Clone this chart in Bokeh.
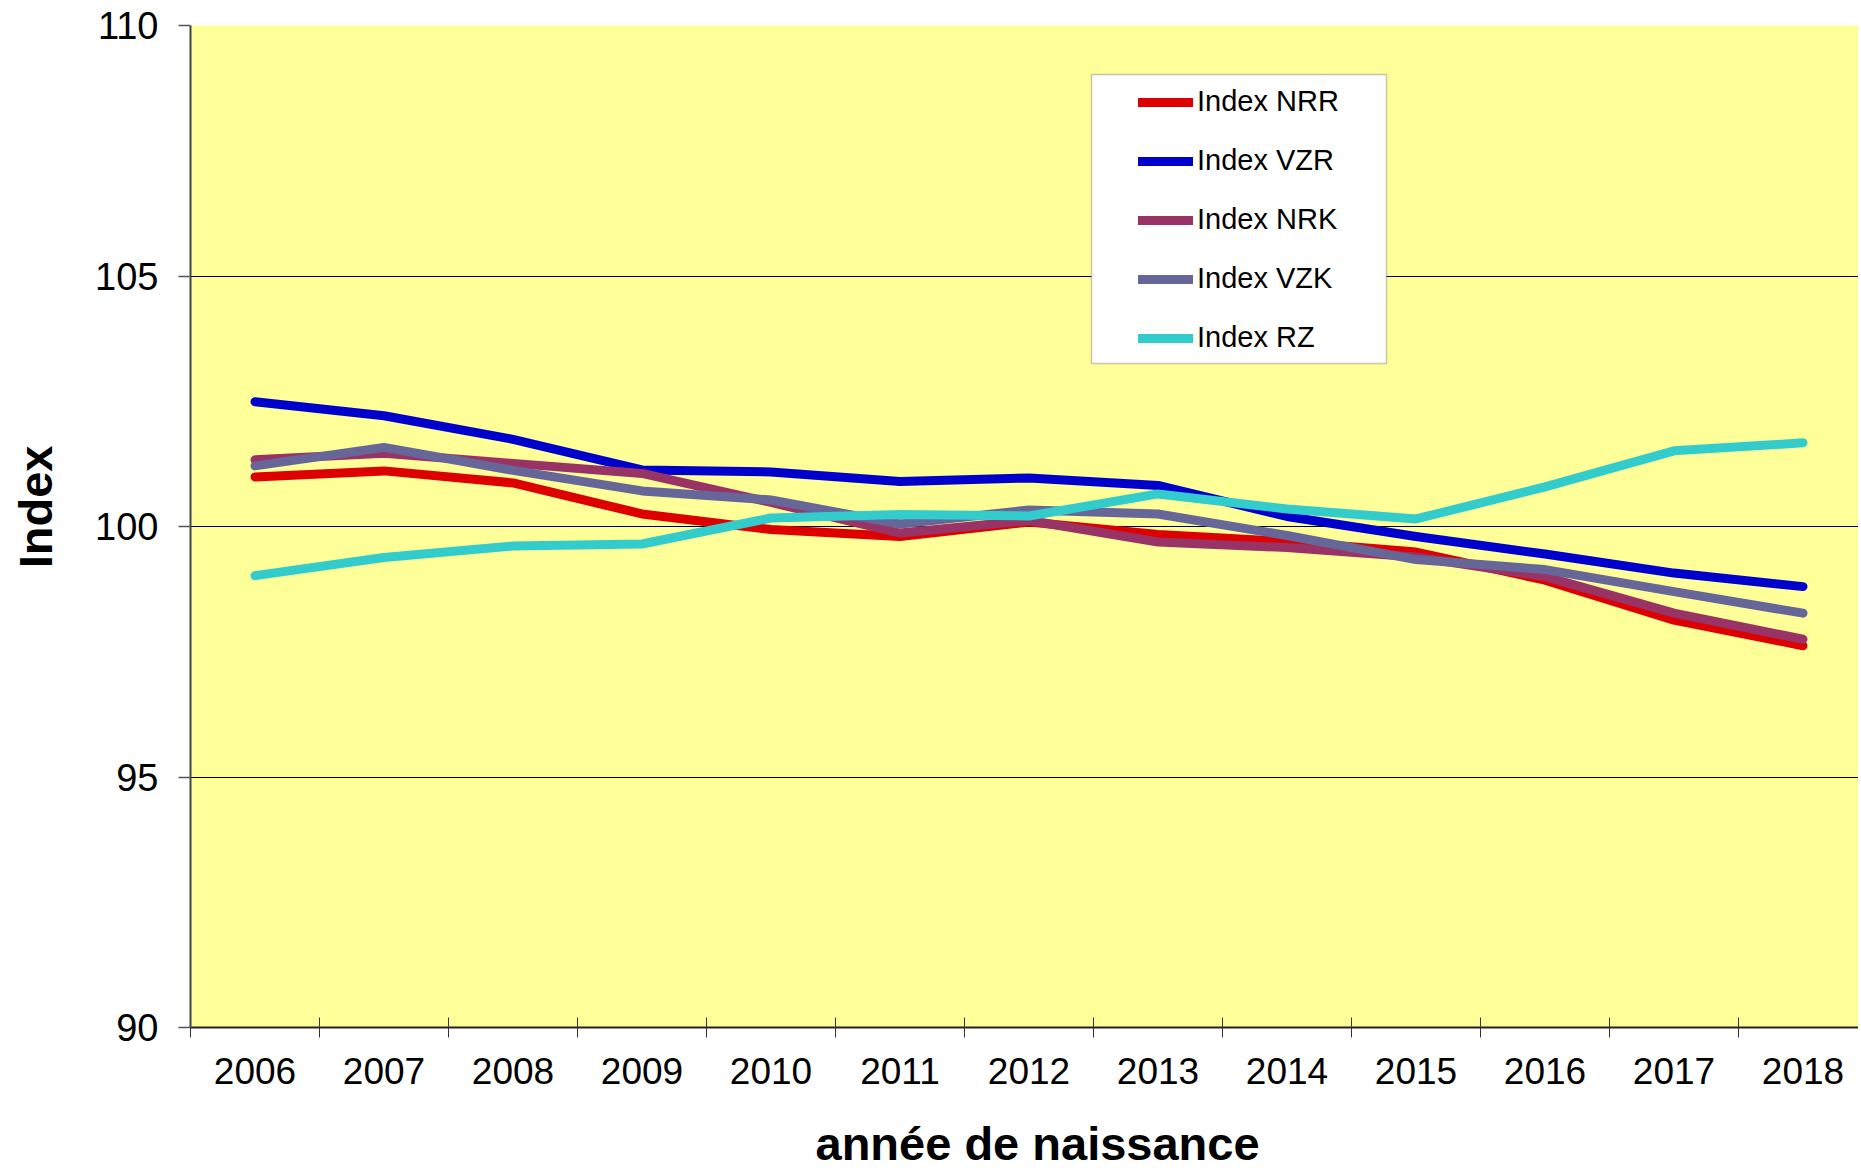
from bokeh.plotting import figure
from bokeh.models import Range1d, FixedTicker, Legend, LegendItem, BoxAnnotation
from bokeh.embed import file_html
from bokeh.resources import INLINE

years = list(range(2006, 2019))
index_nrr = [100.99, 101.11, 100.87, 100.25, 99.94, 99.80, 100.09, 99.84, 99.70, 99.49, 98.93, 98.13, 97.62]
index_vzr = [102.49, 102.21, 101.74, 101.13, 101.09, 100.90, 100.97, 100.82, 100.20, 99.80, 99.45, 99.07, 98.80]
index_nrk = [101.33, 101.46, 101.26, 101.06, 100.48, 99.87, 100.12, 99.69, 99.58, 99.39, 99.00, 98.27, 97.75]
index_vzk = [101.21, 101.58, 101.12, 100.71, 100.53, 100.05, 100.33, 100.25, 99.82, 99.34, 99.14, 98.70, 98.27]
index_rz = [99.02, 99.38, 99.61, 99.65, 100.17, 100.24, 100.21, 100.65, 100.35, 100.15, 100.79, 101.51, 101.67]

series_names = ["Index NRR", "Index VZR", "Index NRK", "Index VZK", "Index RZ"]
series_values = [index_nrr, index_vzr, index_nrk, index_vzk, index_rz]
series_colors = ["#DD0000", "#0000CC", "#993366", "#666699", "#33CCCC"]
y_ticks = [90, 95, 100, 105, 110]

FONT = "Liberation Sans"
NB = "\u00a0"

p = figure(width=1858, height=1172, output_backend="svg", toolbar_location=None,
           x_range=Range1d(2005.5, 2005.5 + (1858 - 190) / 129.0), y_range=Range1d(90, 110),
           min_border_left=190, min_border_right=0, min_border_top=25, min_border_bottom=145)
p.background_fill_color = "#FFFF99"
p.border_fill_color = "white"
p.outline_line_color = None

renderers = []
for name, vals, col in zip(series_names, series_values, series_colors):
    r = p.line(years, vals, line_color=col, line_width=9, line_cap="round", line_join="round")
    renderers.append(r)

# axes
p.xgrid.visible = False
p.ygrid.ticker = FixedTicker(ticks=y_ticks)
p.ygrid.grid_line_color = "black"
p.ygrid.grid_line_width = 1

xa = p.xaxis[0]
xa.ticker = FixedTicker(ticks=years, minor_ticks=[y - 0.5 for y in years] + [years[-1] + 0.5])
xa.major_tick_in = 0
xa.major_tick_out = 0
xa.minor_tick_in = 10
xa.minor_tick_out = 10
xa.minor_tick_line_color = "#333333"
xa.minor_tick_line_width = 1
xa.axis_line_color = "#222222"
xa.axis_line_width = 2
xa.major_label_text_font = FONT
xa.major_label_text_font_size = "37px"
xa.major_label_text_color = "black"
xa.major_label_standoff = 20
xa.axis_label = NB * 2 + "année de naissance"
xa.axis_label_text_font = FONT
xa.axis_label_text_font_style = "bold"
xa.axis_label_text_font_size = "47px"
xa.axis_label_text_color = "black"
xa.axis_label_standoff = 30

ya = p.yaxis[0]
ya.ticker = FixedTicker(ticks=y_ticks)
ya.major_tick_in = 0
ya.major_tick_out = 12
ya.major_tick_line_color = "#555555"
ya.major_tick_line_width = 1.5
ya.minor_tick_line_color = None
ya.axis_line_color = "#444444"
ya.axis_line_width = 2
ya.major_label_text_font = FONT
ya.major_label_text_font_size = "38px"
ya.major_label_text_color = "black"
ya.major_label_standoff = 20
ya.axis_label = NB * 3 + "Index"
ya.axis_label_text_font = FONT
ya.axis_label_text_font_style = "bold"
ya.axis_label_text_font_size = "47px"
ya.axis_label_text_color = "black"
ya.axis_label_standoff = 30

# legend frame
box = BoxAnnotation(left=901, right=1196, top=953, bottom=664,
                    left_units="screen", right_units="screen",
                    top_units="screen", bottom_units="screen",
                    fill_color="white", fill_alpha=1.0,
                    line_color="#444444", line_width=1.5)
p.add_layout(box)

legend = Legend(items=[LegendItem(label=n, renderers=[r]) for n, r in zip(series_names, renderers)],
                location=(948, 673))
legend.padding = 13
legend.margin = 0
legend.spacing = 26
legend.glyph_width = 55
legend.glyph_height = 30
legend.label_height = 30
legend.label_standoff = 4
legend.label_text_font = FONT
legend.label_text_font_size = "29px"
legend.label_text_color = "black"
legend.border_line_color = None
legend.background_fill_alpha = 0
p.add_layout(legend)

open("out.html", "w").write(file_html(p, INLINE))
